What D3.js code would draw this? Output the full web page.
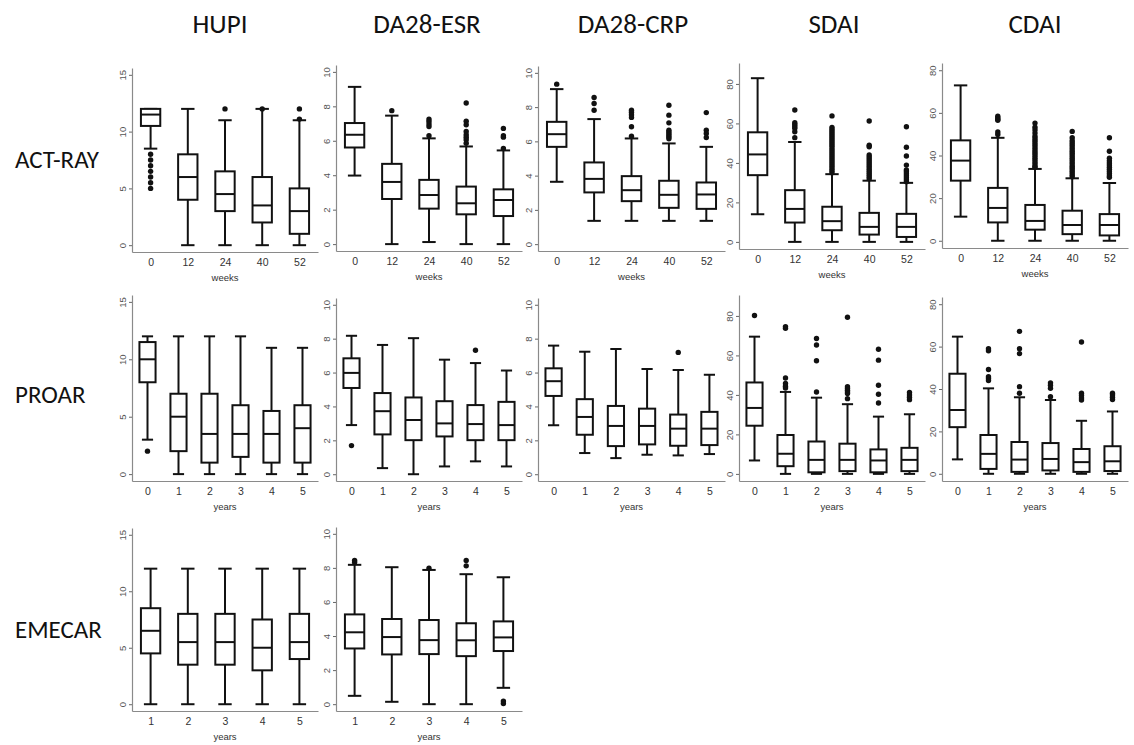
<!doctype html>
<html>
<head>
<meta charset="utf-8">
<script src="https://cdnjs.cloudflare.com/ajax/libs/d3/7.8.5/d3.min.js"></script>
<style>
  body { margin: 0; background: #fff; }
  .head { font-family: Carlito, Calibri, "Open Sans", sans-serif; fill: #111; }
  .ax text { font-family: "Liberation Sans", Arial, sans-serif; }
</style>
</head>
<body>
<svg id="chart" width="1134" height="745"></svg>
<script>
// column / row headings
const indices = ["HUPI", "DA28-ESR", "DA28-CRP", "SDAI", "CDAI"];
const cohorts = ["ACT-RAY", "PROAR", "EMECAR"];

// x categories
const weeks = ["0", "12", "24", "40", "52"];
const yearsFrom0 = ["0", "1", "2", "3", "4", "5"];
const yearsFrom1 = ["1", "2", "3", "4", "5"];

// y tick labels per index
const hupiTicks = [0, 5, 10, 15];
const dasTicks = [0, 2, 4, 6, 8, 10];
const scoreTicks = [0, 20, 40, 60, 80];

// box stats: [lower whisker, Q1, median, Q3, upper whisker]
const actHupi = [[8.5,10.5,11.5,12,12],[0,4,6,8,12],[0,3,4.5,6.5,11],[0,2,3.5,6,12],[0,1,3,5,11]];
const actHupiOut = [[8,7.5,7,6.5,6,5.5,5],[],[12],[12],[12,11.1]];

const actEsr = [[3.98,5.61,6.35,7.03,9.13],[0,2.62,3.61,4.66,7.46],[0.12,2.06,2.85,3.73,6.14],[0,1.73,2.37,3.34,5.67],[0,1.63,2.56,3.18,5.44]];
const actEsrOut = [[],[7.75],[7.26,7.13,6.97,6.83,6.29],[8.19,7.13,6.93,6.54,6.35,6.21,6.06,5.86],[6.72,6.29,6.21,5.55]];

const actCrp = [[3.64,5.68,6.42,7.14,9.05],[1.36,3.02,3.81,4.77,7.3],[1.36,2.51,3.15,3.97,6.17],[1.36,2.12,2.88,3.7,5.88],[1.36,2.06,2.9,3.6,5.68]];
const actCrpOut = [[9.34],[8.56,8.21,7.82],[7.82,7.7,7.55,7.4,6.85,6.3],[8.11,7.53,7.08,6.65,6.55,6.45,6.35,6.25,6.15],[7.68,6.65,6.46,6.23]];

const actSdai = [[14,33.8,44.3,55.5,82.9],[0,9.8,16.7,26.2,50.6],[0,5.9,10.5,17.8,34.3],[0,3.7,7.6,14.7,31],[0,2.5,7.6,14.2,29.9]];
const actSdaiOut = [[],
  [66.8,60.4,59.5,58.5,57.5,55.8,52.8],
  [63.8,58,57,56,55,54,53,52,51,50,49,48,47,46,45,44,43,42,41,40,39,38,37,36,35],
  [61.2,49,48.2,44,43,42,41,40,39,38,37,36,35,34,33,32],
  [58.3,47.9,43.5,38.9,36.4,35.5,34.5,33.5,32.5,31.5,30.5]];

const actCdai = [[11.3,28.2,37.6,47.1,72.9],[0,8.6,15.4,24.8,48.3],[0,5.2,9.3,16.8,33.7],[0,3.1,7.4,14.1,29.3],[0,2.5,7.4,12.5,27.1]];
const actCdaiOut = [[],
  [58.4,57.6,57,56.5,51,49.9],
  [55.2,53.3,52,50.5,49,48,47,46,45,44,43,42,41,40,39,38,37,36,35,34.5],
  [51.3,48.3,47,46,45,44,43,42,41,40,39,38,37,36,35,34,33,32,31,30],
  [48.3,42,38.7,37.5,36.5,35.5,34.5,33.5,32.5,31.5,30.5,29.8]];

const proHupi = [[3,8,10,11.5,12],[0,2,5,7,12],[0,1,3.5,7,12],[0,1.5,3.5,6,12],[0,1,3.5,5.5,11],[0,1,4,6,11]];
const proHupiOut = [[2],[],[],[],[],[]];

const proEsr = [[2.9,5.09,5.98,6.84,8.17],[0.36,2.35,3.72,4.79,7.63],[0,2.01,3.2,4.53,8.03],[0.46,2.23,3,4.31,6.76],[0.76,2.01,2.96,4.08,6.56],[0.46,2.01,2.9,4.27,6.12]];
const proEsrOut = [[1.69],[],[],[],[7.32],[]];

const proCrp = [[2.89,4.62,5.49,6.25,7.59],[1.25,2.33,3.38,4.43,7.23],[0.95,1.66,2.85,4.03,7.39],[1.15,1.76,2.85,3.87,6.21],[1.11,1.68,2.69,3.52,6.15],[1.19,1.72,2.69,3.68,5.87]];
const proCrpOut = [[],[],[],[],[7.19],[]];

const proSdai = [[6.8,24.4,33.4,46.3,69.5],[0,3.9,10.2,19.7,41.5],[0,0.8,7.1,16.4,38.6],[0,1.4,7.1,15.3,35.3],[0,0.8,6.8,12.4,29],[0,1.4,7.1,13.2,30.2]];
const proSdaiOut = [[80.2],[74.6,73.7,48.6,45.8,44.4,43.5],[68.6,65.3,57.3,41.5],[79.3,44.1,43.2,42.3,41.5,40.7,38.1],[63.1,57.6,44.9,40.3,35.9],[41.2,40,38.8,37.6]];

const proCdai = [[6.8,22,30.1,47.2,64.7],[0,2.3,9.4,18.3,40.3],[0,0.9,6.7,15,36.1],[0,1.6,7,14.5,34.8],[0,0.9,5.5,11.7,25],[0,1.3,5.9,13,29.4]];
const proCdaiOut = [[],[59,58,49.2,45.8,45,44],[67.2,59,56.7,41.1,38],[42.9,41.8,40.3,36.4],[62.2,38,36.9,35.8,34.8],[38,37.2,36.1,35]];

const emeHupi = [[0,4.5,6.5,8.5,12],[0,3.5,5.5,8,12],[0,3.5,5.5,8,12],[0,3,5,7.5,12],[0,4,5.5,8,12]];
const emeHupiOut = [[],[],[],[],[]];

const emeEsr = [[0.49,3.27,4.22,5.27,8.18],[0.14,2.92,3.94,5,8.04],[0,2.94,3.76,4.94,7.88],[0,2.82,3.75,4.75,7.63],[0.96,3.12,3.92,4.86,7.45]];
const emeEsrOut = [[8.43,8.33],[],[7.98],[8.43,8.12],[0.18,0.04]];

// layout
const colX = [[132, 318], [336, 522], [538, 725], [739, 925], [942, 1128]];
const colDomain = [[-0.6, 15.6], [-0.4, 10.4], [-0.4, 10.4], [-3.6, 90.6], [-3.4, 83.4]];
const colTicks = [hupiTicks, dasTicks, dasTicks, scoreTicks, scoreTicks];

const panels = [
  {r:0, c:0, top:68,  bot:252, cats:weeks, xlab:"weeks", stats:actHupi, out:actHupiOut},
  {r:0, c:1, top:65,  bot:251, cats:weeks, xlab:"weeks", stats:actEsr,  out:actEsrOut},
  {r:0, c:2, top:66,  bot:251, cats:weeks, xlab:"weeks", stats:actCrp,  out:actCrpOut},
  {r:0, c:3, top:63,  bot:249, cats:weeks, xlab:"weeks", stats:actSdai, out:actSdaiOut},
  {r:0, c:4, top:63,  bot:248, cats:weeks, xlab:"weeks", stats:actCdai, out:actCdaiOut},
  {r:1, c:0, top:295, bot:481, cats:yearsFrom0, xlab:"years", stats:proHupi, out:proHupiOut},
  {r:1, c:1, top:298, bot:481, cats:yearsFrom0, xlab:"years", stats:proEsr,  out:proEsrOut},
  {r:1, c:2, top:298, bot:481, cats:yearsFrom0, xlab:"years", stats:proCrp,  out:proCrpOut},
  {r:1, c:3, top:295, bot:481, cats:yearsFrom0, xlab:"years", stats:proSdai, out:proSdaiOut},
  {r:1, c:4, top:297, bot:481, cats:yearsFrom0, xlab:"years", stats:proCdai, out:proCdaiOut},
  {r:2, c:0, top:528, bot:711, cats:yearsFrom1, xlab:"years", stats:emeHupi, out:emeHupiOut},
  {r:2, c:1, top:527, bot:711, cats:yearsFrom1, xlab:"years", stats:emeEsr,  out:emeEsrOut}
];

const svg = d3.select("#chart");
svg.append("rect").attr("width", 1134).attr("height", 745).attr("fill", "#fff");

// headings
const titleX = [220, 427, 633, 834, 1035];
svg.selectAll(".coltitle").data(indices).enter().append("text")
  .attr("class", "head")
  .attr("x", (d, i) => titleX[i]).attr("y", 33)
  .attr("text-anchor", "middle").attr("font-size", 27)
  .text(d => d);

const rowY = [168, 403, 638];
svg.selectAll(".rowtitle").data(cohorts).enter().append("text")
  .attr("class", "head")
  .attr("x", 15).attr("y", (d, i) => rowY[i])
  .attr("font-size", 25)
  .text(d => d);

panels.forEach(p => {
  const n = p.cats.length;
  const x = d3.scaleLinear().domain([0.5, n + 0.5]).range(colX[p.c]);
  const y = d3.scaleLinear().domain(colDomain[p.c]).range([p.bot, p.top]);
  const step = x(2) - x(1);
  const bw = step * 0.52, cw = step * 0.36;
  const g = svg.append("g");

  // y axis
  const ya = g.append("g").attr("class", "ax")
    .attr("transform", `translate(${colX[p.c][0]},0)`)
    .call(d3.axisLeft(y).tickValues(colTicks[p.c]).tickSizeInner(3).tickSizeOuter(0));
  ya.select(".domain").attr("stroke", "#8a8a8a").attr("stroke-width", 1.2);
  ya.selectAll(".tick line").attr("stroke", "#666");
  ya.selectAll(".tick text")
    .attr("transform", "rotate(-90)")
    .attr("x", 0).attr("y", -6).attr("dy", 0)
    .attr("text-anchor", "middle")
    .attr("font-size", 9.5).attr("fill", "#555");

  // x axis
  const xa = g.append("g").attr("class", "ax")
    .attr("transform", `translate(0,${p.bot})`)
    .call(d3.axisBottom(x).tickValues(d3.range(1, n + 1)).tickFormat(i => p.cats[i - 1]).tickSize(0));
  xa.select(".domain").attr("stroke", "#8a8a8a").attr("stroke-width", 1.2);
  xa.selectAll(".tick text").attr("dy", 0).attr("y", 14).attr("font-size", 10.5).attr("fill", "#333");
  g.append("text").attr("class", "ax")
    .attr("x", (colX[p.c][0] + colX[p.c][1]) / 2).attr("y", p.bot + 29)
    .attr("text-anchor", "middle").attr("font-size", 9.5).attr("fill", "#333")
    .attr("font-family", "Liberation Sans, Arial, sans-serif")
    .text(p.xlab);

  // boxes
  const bx = g.selectAll(".bx").data(p.stats).enter().append("g");
  const cx = (d, i) => x(i + 1);
  bx.append("line").attr("x1", cx).attr("x2", cx)
    .attr("y1", d => y(d[3])).attr("y2", d => y(d[4]));
  bx.append("line").attr("x1", cx).attr("x2", cx)
    .attr("y1", d => y(d[1])).attr("y2", d => y(d[0]));
  bx.append("line").attr("x1", (d, i) => x(i + 1) - cw / 2).attr("x2", (d, i) => x(i + 1) + cw / 2)
    .attr("y1", d => y(d[4])).attr("y2", d => y(d[4]));
  bx.append("line").attr("x1", (d, i) => x(i + 1) - cw / 2).attr("x2", (d, i) => x(i + 1) + cw / 2)
    .attr("y1", d => y(d[0])).attr("y2", d => y(d[0]));
  bx.append("rect")
    .attr("x", (d, i) => x(i + 1) - bw / 2).attr("width", bw)
    .attr("y", d => y(d[3])).attr("height", d => y(d[1]) - y(d[3]))
    .attr("fill", "#fff");
  bx.append("line").attr("x1", (d, i) => x(i + 1) - bw / 2).attr("x2", (d, i) => x(i + 1) + bw / 2)
    .attr("y1", d => y(d[2])).attr("y2", d => y(d[2]));
  bx.selectAll("line, rect").attr("stroke", "#111").attr("stroke-width", 2);

  // outliers
  p.out.forEach((vals, i) => {
    g.selectAll(null).data(vals).enter().append("circle")
      .attr("cx", x(i + 1)).attr("cy", d => y(d)).attr("r", 2.7).attr("fill", "#111");
  });
});
</script>
</body>
</html>
